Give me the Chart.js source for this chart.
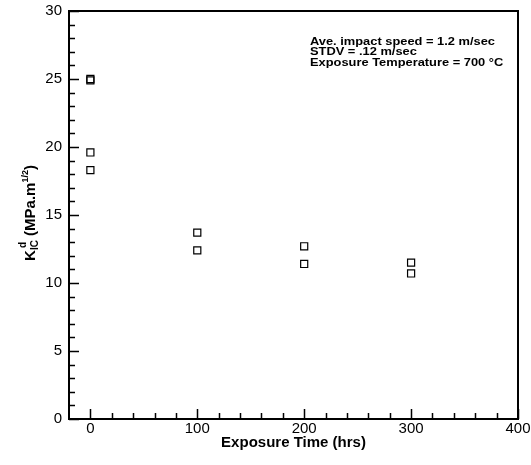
<!DOCTYPE html>
<html>
<head>
<meta charset="utf-8">
<script src="https://cdn.jsdelivr.net/npm/chart.js@4.4.1/dist/chart.umd.min.js"></script>
<style>
html,body{margin:0;padding:0;background:#fff;}
#wrap{width:531px;height:465px;position:relative;}
</style>
</head>
<body>
<div id="wrap"><canvas id="c" width="531" height="465"></canvas></div>
<script>
// ---- data ----
const exposureHours = [0, 0, 0, 0, 100, 100, 200, 200, 300, 300];
const kicValues     = [25.0, 24.9, 19.6, 18.3, 13.7, 12.4, 12.7, 11.4, 11.5, 10.7];
const xTickValues = [0, 100, 200, 300, 400];
const yTickValues = [0, 5, 10, 15, 20, 25, 30];
const xMinorStep = 20;
const yMinorStep = 1;
const annotationLines = [
  'Ave. impact speed = 1.2 m/sec',
  'STDV = .12 m/sec',
  'Exposure Temperature = 700 \u00B0C'
];
const xTitle = 'Exposure Time (hrs)';

const FONT = '"Liberation Sans", Arial, Helvetica, sans-serif';

const points = exposureHours.map((x, i) => ({x: x, y: kicValues[i]}));

const decor = {
  id: 'decor',
  afterDraw(chart) {
    const ctx = chart.ctx;
    const a = chart.chartArea;
    const xs = chart.scales.x, ys = chart.scales.y;
    ctx.save();
    ctx.strokeStyle = '#000';
    // box
    ctx.lineWidth = 2;
    ctx.strokeRect(a.left, a.top, a.right - a.left, a.bottom - a.top);
    // ticks
    ctx.lineWidth = 1.5;
    ctx.beginPath();
    for (let v = 0; v <= 400; v += xMinorStep) {
      const px = Math.round(xs.getPixelForValue(v)) + 0.5;
      const len = (v % 100 === 0) ? 10 : 6;
      ctx.moveTo(px, a.bottom);
      ctx.lineTo(px, a.bottom - len);
    }
    for (let v = 0; v <= 30; v += yMinorStep) {
      const py = Math.round(ys.getPixelForValue(v)) + 0.5;
      const len = (v % 5 === 0) ? 10 : 6;
      ctx.moveTo(a.left, py);
      ctx.lineTo(a.left + len, py);
    }
    ctx.stroke();

    // annotation (slightly wide-set bold text)
    ctx.fillStyle = '#000';
    ctx.font = 'bold 11.5px ' + FONT;
    ctx.textBaseline = 'alphabetic';
    ctx.textAlign = 'left';
    const w0 = ctx.measureText(annotationLines[0]).width;
    const sx = 185 / w0;
    annotationLines.forEach((t, i) => {
      ctx.save();
      ctx.translate(310, 44.5 + i * 10.8);
      ctx.scale(sx, 1);
      ctx.fillText(t, 0, 0);
      ctx.restore();
    });

    // x title
    ctx.font = 'bold 15px ' + FONT;
    ctx.textAlign = 'center';
    ctx.fillText(xTitle, (a.left + a.right) / 2, 447);

    // y title (rotated, with sub/superscripts)
    const parts = [
      {t: 'K', f: 'bold 15px ', dy: 0},
      {t: 'IC', f: 'bold 10px ', dy: 3, sup: 'd'},
      {t: ' (MPa.m', f: 'bold 15px ', dy: 0},
      {t: '1/2', f: 'bold 9px ', dy: -7},
      {t: ')', f: 'bold 15px ', dy: 0}
    ];
    let total = 0;
    parts.forEach(p => { ctx.font = p.f + FONT; p.w = ctx.measureText(p.t).width; total += p.w; });
    ctx.translate(35, 213);
    ctx.rotate(-Math.PI / 2);
    ctx.textAlign = 'left';
    let x = -total / 2;
    parts.forEach(p => {
      ctx.font = p.f + FONT;
      ctx.fillText(p.t, x, p.dy);
      if (p.sup) {
        ctx.font = 'bold 10px ' + FONT;
        ctx.fillText(p.sup, x + 2, -9);
      }
      x += p.w;
    });
    ctx.restore();
  }
};

new Chart(document.getElementById('c'), {
  type: 'scatter',
  data: {
    datasets: [{
      data: points,
      pointStyle: 'rect',
      pointRadius: 5,
      pointHoverRadius: 5,
      borderColor: '#000',
      backgroundColor: 'rgba(0,0,0,0)',
      borderWidth: 1.2
    }]
  },
  options: {
    responsive: false,
    animation: false,
    devicePixelRatio: 1,
    layout: {autoPadding: false, padding: {left: 0, right: 13, top: 11, bottom: 0}},
    plugins: {legend: {display: false}, tooltip: {enabled: false}},
    scales: {
      x: {
        type: 'linear',
        min: -20, max: 400,
        afterBuildTicks: s => { s.ticks = xTickValues.map(v => ({value: v})); },
        afterFit: s => { s.height = 46; s.paddingLeft = 0; s.paddingRight = 0; },
        grid: {display: false, drawTicks: false},
        border: {display: false},
        ticks: {color: '#000', font: {family: FONT, size: 15}, padding: 1, maxRotation: 0}
      },
      y: {
        type: 'linear',
        min: 0, max: 30,
        afterBuildTicks: s => { s.ticks = yTickValues.map(v => ({value: v})); },
        afterFit: s => { s.width = 69; s.paddingTop = 0; s.paddingBottom = 0; },
        grid: {display: false, drawTicks: false},
        border: {display: false},
        ticks: {color: '#000', font: {family: FONT, size: 15}, padding: 7}
      }
    }
  },
  plugins: [decor]
});
</script>
</body>
</html>
